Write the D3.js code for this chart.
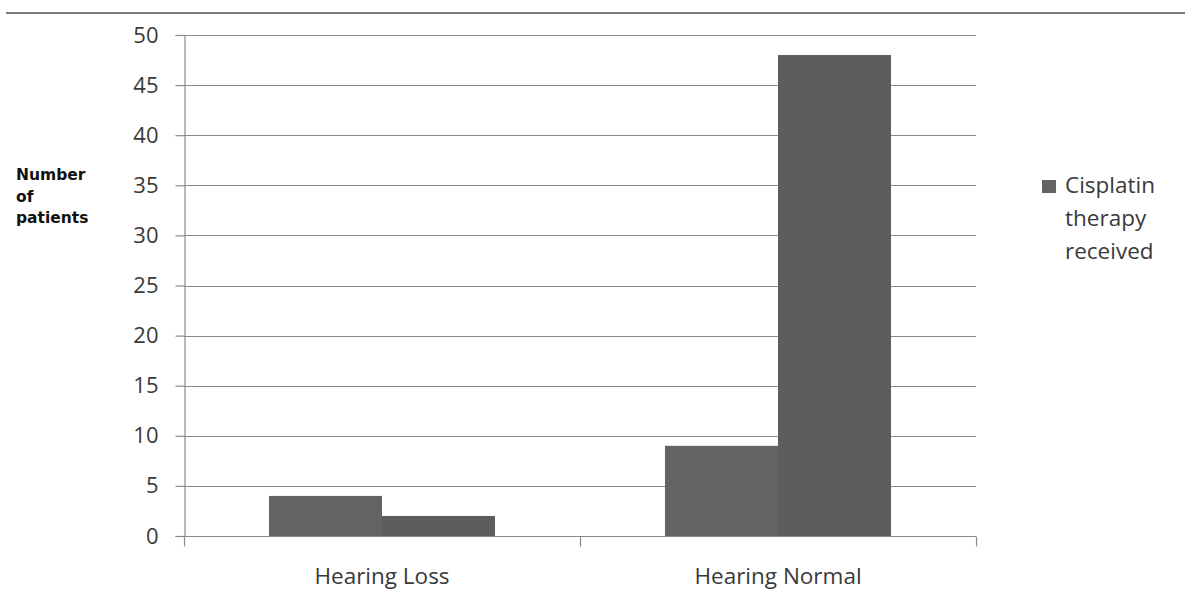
<!DOCTYPE html>
<html>
<head>
<meta charset="utf-8">
<script src="https://cdn.jsdelivr.net/npm/d3@7"></script>
<style>
  html, body { margin: 0; padding: 0; background: #fff; }
  svg { display: block; }
</style>
</head>
<body>
<svg id="chart" width="1185" height="590"></svg>
<script>
const categories = ["Hearing Loss", "Hearing Normal"];
const seriesNames = ["Cisplatin therapy received", "Series 2"];
const series1 = [4, 9];
const series2 = [2, 48];
const yTicks = [0, 5, 10, 15, 20, 25, 30, 35, 40, 45, 50];
const legendLines = ["Cisplatin", "therapy", "received"];
const yTitleLines = ["Number", "of", "patients"];

(function () {
const seriesValues = [series1, series2];
const colors = ["#636363", "#5d5d5d"];

const svg = d3.select("#chart");
const pLeft = 184, pRight = 976, pTop = 35, pBottom = 536;

const y = d3.scaleLinear().domain([0, 50]).range([pBottom, pTop]);
const x0 = d3.scaleBand().domain(categories).range([pLeft, pRight]).paddingInner(0).paddingOuter(0);
const x1 = d3.scaleBand().domain(seriesNames).range([0, x0.bandwidth()]).paddingInner(0).paddingOuter(0.752);

// top rule
svg.append("line").attr("x1", 6).attr("x2", 1185).attr("y1", 13).attr("y2", 13)
  .attr("stroke", "#7a7a7a").attr("stroke-width", 2.2);

// gridlines
svg.append("g").selectAll("line").data(yTicks.filter(d => d > 0)).join("line")
  .attr("x1", pLeft).attr("x2", pRight)
  .attr("y1", d => Math.round(y(d)) + 0.5).attr("y2", d => Math.round(y(d)) + 0.5)
  .attr("stroke", "#8a8a8a").attr("stroke-width", 1.2);

// bars
const groups = svg.append("g").selectAll("g").data(categories).join("g")
  .attr("transform", d => `translate(${x0(d)},0)`);
groups.selectAll("rect").data((d, i) => seriesNames.map((s, j) => ({ s, j, v: seriesValues[j][i] })))
  .join("rect")
  .attr("x", d => x1(d.s))
  .attr("width", x1.bandwidth())
  .attr("y", d => y(d.v))
  .attr("height", d => y(0) - y(d.v))
  .attr("fill", d => colors[d.j]);

// y axis
const yAxis = d3.axisLeft(y).tickValues(yTicks).tickSize(9).tickPadding(17);
const yg = svg.append("g").attr("transform", `translate(${pLeft + 0.5},0)`).call(yAxis);
yg.select(".domain").attr("stroke", "#8a8a8a").attr("stroke-width", 1.2);
yg.selectAll(".tick line").attr("stroke", "#8a8a8a").attr("stroke-width", 1.2);
yg.selectAll(".tick text").attr("font-family", "'Open Sans', sans-serif").attr("font-size", 22)
  .attr("fill", "#3a3a3a");

// x axis
const xAxis = d3.axisBottom(x0).tickSize(0).tickPadding(0);
const xg = svg.append("g").attr("transform", `translate(0,${pBottom + 0.5})`).call(xAxis);
xg.select(".domain").attr("stroke", "#8a8a8a").attr("stroke-width", 1.2)
  .attr("d", `M${pLeft},0H${pRight}`);
xg.selectAll(".tick text").attr("font-family", "'Open Sans', sans-serif").attr("font-size", 22.5)
  .attr("fill", "#3a3a3a").attr("dy", null).attr("y", 47);
// category boundary ticks
const boundaries = [x0(categories[0])].concat(categories.map(c => x0(c) + x0.bandwidth()));
xg.append("g").selectAll("line").data(boundaries).join("line")
  .attr("x1", d => Math.round(d) + 0.5).attr("x2", d => Math.round(d) + 0.5)
  .attr("y1", 0).attr("y2", 10)
  .attr("stroke", "#8a8a8a").attr("stroke-width", 1.2);

// y title
svg.append("text").attr("x", 16).attr("y", 180)
  .attr("font-family", "'DejaVu Sans', sans-serif").attr("font-weight", "bold")
  .attr("font-size", 15.5).attr("fill", "#111")
  .selectAll("tspan").data(yTitleLines).join("tspan")
  .attr("x", 16).attr("dy", (d, i) => i === 0 ? 0 : 21.5).text(d => d);

// legend
svg.append("rect").attr("x", 1042).attr("y", 180).attr("width", 14).attr("height", 13)
  .attr("fill", colors[0]);
svg.append("text").attr("x", 1065).attr("y", 193)
  .attr("font-family", "'Open Sans', sans-serif").attr("font-size", 22.5).attr("fill", "#3a3a3a")
  .selectAll("tspan").data(legendLines).join("tspan")
  .attr("x", 1065).attr("dy", (d, i) => i === 0 ? 0 : 33).text(d => d);
})();
</script>
</body>
</html>
